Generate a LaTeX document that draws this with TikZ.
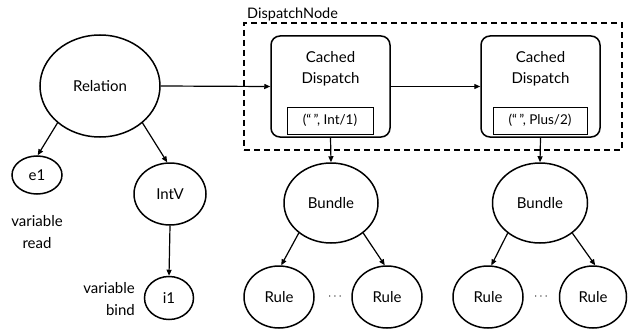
\documentclass[tikz,border=0pt]{standalone}
\usepackage{fontspec}
\setmainfont{Lato}
\usetikzlibrary{shapes.geometric,arrows.meta}
\begin{document}
\begin{tikzpicture}[x=1pt,y=-1pt,
  lbl/.style={font=\fontsize{15}{21.5}\selectfont},
  oval/.style={ellipse,draw,line width=1.5pt,inner sep=0pt,lbl},
  cdbox/.style={draw,rounded corners=9pt,line width=1.5pt,minimum width=119pt,minimum height=101pt,inner sep=0pt},
  tagbox/.style={draw,line width=0.7pt,minimum height=27pt,inner sep=0pt,font=\fontsize{13.5}{15}\selectfont},
  arr/.style={-{Triangle[length=6pt,width=5pt]},line width=1.2pt},
  txt/.style={lbl,inner sep=0pt}
]
\useasboundingbox (0,0) rectangle (628,334);

% left tree
\node[oval,minimum width=120pt,minimum height=102pt] (rel) at (100,86) {Relation};
\node[oval,minimum width=50pt,minimum height=38pt] (e1) at (37,175) {e1};
\node[txt,align=center] (vr) at (37,232) {variable\\read};
\node[oval,minimum width=72pt,minimum height=62pt] (intv) at (170,194) {IntV};
\node[oval,minimum width=49pt,minimum height=43pt] (i1) at (169,298) {i1};
\node[txt,align=right,anchor=east] (vb) at (135,299) {variable\\bind};

% dispatch node group
\node[draw,dashed,line width=1.4pt,dash pattern=on 6pt off 4pt,minimum width=378pt,minimum height=127pt,inner sep=0pt] (dn) at (433,86.5) {};
\node[txt,anchor=west,font=\fontsize{14.5}{17}\selectfont] (dnl) at (247,14) {DispatchNode};

\node[cdbox] (cd1) at (330.5,86.5) {};
\node[txt,align=center] (cd1t) at (330.5,69) {Cached\\Dispatch};
\node[tagbox,minimum width=86pt] (tag1) at (330,120.5) {(“\,”, Int/1)};

\node[cdbox] (cd2) at (540.5,86.5) {};
\node[txt,align=center] (cd2t) at (540.5,69) {Cached\\Dispatch};
\node[tagbox,minimum width=94pt] (tag2) at (540,120.5) {(“\,”, Plus/2)};

% bundles and rules
\node[oval,minimum width=94pt,minimum height=80pt] (b1) at (331,203) {Bundle};
\node[oval,minimum width=95pt,minimum height=80pt] (b2) at (540,203) {Bundle};
\node[oval,minimum width=70pt,minimum height=62pt] (r1) at (279,297) {Rule};
\node[oval,minimum width=70pt,minimum height=62pt] (r2) at (387,297) {Rule};
\node[oval,minimum width=70pt,minimum height=62pt] (r3) at (488,297) {Rule};
\node[oval,minimum width=67pt,minimum height=62pt] (r4) at (593,297) {Rule};
\node[txt,font=\fontsize{12}{14}\selectfont] (d1) at (335,297) {$\cdots$};
\node[txt,font=\fontsize{12}{14}\selectfont] (d2) at (541,297) {$\cdots$};

% connectors
\draw[arr] (rel.east) -- (cd1.west);
\draw[arr] (cd1.east) -- (cd2.west);
\draw[arr] (rel.221) -- (e1.88);
\draw[arr] (rel.319) -- (intv.95);
\draw[arr] (intv.south) -- (i1.north);
\draw[arr] (cd1.south) -- (b1.north);
\draw[arr] (cd2.south) -- (b2.north);
\draw[arr] (b1.223) -- (r1.86);
\draw[arr] (b1.317) -- (r2.94);
\draw[arr] (b2.223) -- (r3.84);
\draw[arr] (b2.317) -- (r4.86);
\end{tikzpicture}
\end{document}
